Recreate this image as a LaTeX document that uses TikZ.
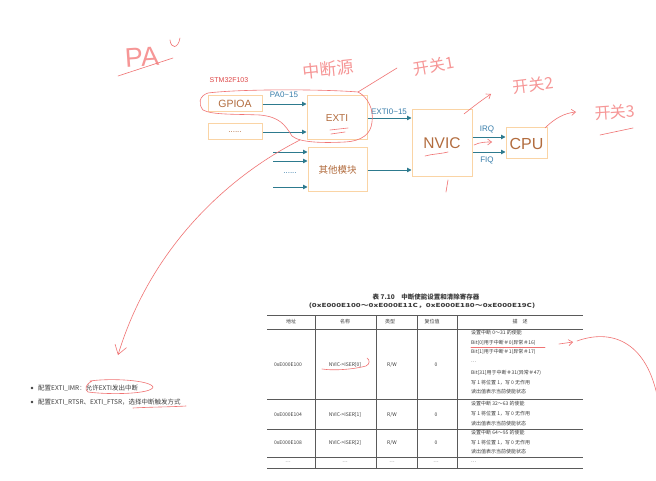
\documentclass[tikz,border=0pt]{standalone}
\usepackage{fontspec}
\setmainfont{Liberation Sans}
\newfontfamily\cjk{Noto Sans CJK SC}
\newfontfamily\tserif{Liberation Serif}
\usetikzlibrary{arrows.meta}
\definecolor{boxc}{RGB}{250,212,165}
\definecolor{boxt}{RGB}{178,108,62}
\definecolor{arrc}{RGB}{45,122,142}
\definecolor{labc}{RGB}{55,125,170}
\definecolor{handc}{RGB}{240,115,115}
\definecolor{handt}{RGB}{246,150,150}
\definecolor{stmc}{RGB}{222,70,70}
\definecolor{tabc}{RGB}{90,90,90}
\definecolor{txtc}{RGB}{60,60,60}
\begin{document}
\begin{tikzpicture}[x=1pt,y=-1pt,
  box/.style={draw=boxc,line width=1pt,text=boxt,inner sep=0pt},
  arr/.style={draw=arrc,line width=0.9pt,-{Triangle[length=4.5pt,width=4.5pt]}},
  lab/.style={text=labc,font=\fontsize{8}{8}\selectfont,inner sep=0pt},
  hand/.style={draw=handc,line width=0.6pt,line cap=round,line join=round},
  harr/.style={hand,-{Straight Barb[length=4pt,width=6pt]}},
  htext/.style={text=handt,font=\cjk\fontsize{16}{16}\selectfont,inner sep=0pt},
  tline/.style={draw=tabc,line width=0.4pt},
  ttext/.style={font=\cjk\fontsize{5}{6}\selectfont,text=txtc,inner sep=0pt},
  dtext/.style={ttext,anchor=west},
  btext/.style={font=\cjk\fontsize{6.5}{7}\selectfont,text=txtc,inner sep=0pt,anchor=west}
]
\useasboundingbox[fill=white] (0,0) rectangle (656,481);

% ---------- boxes ----------
\node[box,minimum width=54pt,minimum height=16pt,font=\fontsize{10.5}{11}\selectfont] (gpioa) at (235,104) {GPIOA};
\node[box,minimum width=54pt,minimum height=16pt,font=\fontsize{8}{8}\selectfont] (dots) at (235,132) {......};
\node[box,minimum width=60pt,minimum height=44pt,font=\fontsize{10}{10}\selectfont] (exti) at (337,118) {EXTI};
\node[box,minimum width=59pt,minimum height=44pt,font=\cjk\fontsize{9.5}{10}\selectfont] (other) at (337.5,170) {其他模块};
\node[box,minimum width=60pt,minimum height=67pt,font=\fontsize{15.5}{16}\selectfont] (nvic) at (442,143.5) {NVIC};
\node[box,minimum width=41pt,minimum height=31pt,font=\fontsize{16}{16}\selectfont] (cpu) at (526.5,143.5) {CPU};
\node[text=stmc,font=\fontsize{7}{7}\selectfont,inner sep=0pt] (stm) at (229,80) {STM32F103};

% ---------- connectors ----------
\draw[arr] (gpioa.east) -- (gpioa.east -| exti.west);
\draw[arr] (dots.east) -- (dots.east -| exti.west);
\draw[arr] (exti.east) -- (exti.east -| nvic.west);
\draw[arr] (other.east) -- (other.east -| nvic.west);
\coordinate (in1) at (273,152);
\coordinate (in2) at (273,161);
\coordinate (in3) at (273,187);
\draw[arr] (in1) -- (in1 -| other.west);
\draw[arr] (in2) -- (in2 -| other.west);
\draw[arr] (in3) -- (in3 -| other.west);
\node[text=labc,font=\fontsize{8}{8}\selectfont,inner sep=0pt] (indots) at (290,173) {......};
\draw[arr] ([yshift=6.5pt]nvic.east) -- ([yshift=6.5pt]nvic.east -| cpu.west);
\draw[arr] ([yshift=-8.5pt]nvic.east) -- ([yshift=-8.5pt]nvic.east -| cpu.west);
\node[lab] (lpa) at (284,95) {PA0\textasciitilde15};
\node[lab] (lexti) at (389,112) {EXTI0\textasciitilde15};
\node[lab] (lirq) at (487,129) {IRQ};
\node[lab] (lfiq) at (487,160) {FIQ};

% ---------- handwriting ----------
\node[text=handt,font=\fontsize{27}{27}\selectfont,inner sep=0pt,rotate=4] (pa) at (142,57) {PA};
\draw[hand] (170,40) .. controls (171,49) and (178,49) .. (180,38);
\draw[hand] (118,76) -- (173,58);
\node[htext,rotate=6,font=\cjk\fontsize{17}{17}\selectfont] (zds) at (328,69) {中断源};
\node[htext,rotate=10] (k1) at (434,66) {开关1};
\node[htext,rotate=7] (k2) at (533,85) {开关2};
\node[htext,rotate=4] (k3) at (615,112) {开关3};
\draw[hand] (600,135) -- (633,128);
% loop around GPIOA / EXTI
\draw[hand] (358,92) .. controls (368,97) and (374,110) .. (372,122)
  .. controls (371,134) and (362,141) .. (345,142)
  .. controls (325,143) and (300,143) .. (292,136)
  .. controls (285,125) and (280,117) .. (260,115)
  .. controls (235,114) and (212,115) .. (203,110)
  .. controls (198,104) and (199,96) .. (208,93)
  .. controls (240,89) and (320,89) .. (358,92)
  -- (397,68);
% underlines
\draw[hand] (330,130) -- (348,128);
\draw[hand] (331,134) -- (345,132);
\draw[hand] (425,156) .. controls (432,154) and (440,154) .. (448,152);
% arrows to switches
\draw[harr] (464,114) .. controls (474,106) and (482,100) .. (491,94);
\draw[harr] (545,128) .. controls (555,118) and (565,113) .. (576,112);
\draw[harr] (474,145) .. controls (480,142) and (486,142) .. (492,142);
\draw[hand] (446,192) -- (448,180);
% long curve to the bullet list
\draw[hand,-{Straight Barb[length=9pt,width=12pt]}] (300,140) .. controls (225,178) and (150,250) .. (118,355);

% ---------- bullets ----------
\fill[txtc] (32,388) circle (1.3pt);
\fill[txtc] (32,402) circle (1.3pt);
\node[btext] (b1) at (38,388) {配置EXTI\_IMR：允许EXTI发出中断};
\node[btext] (b2) at (38,402) {配置EXTI\_RTSR、EXTI\_FTSR，选择中断触发方式};
\draw[hand] (90,381) .. controls (110,378) and (150,380) .. (153,387)
  .. controls (152,394) and (110,395) .. (88,392) .. controls (84,389) and (86,384) .. (92,381);
\draw[hand] (133,408) .. controls (150,407) and (170,407) .. (186,406);

% ---------- table ----------
\node[font=\cjk\bfseries\fontsize{6.5}{7}\selectfont,text=txtc,inner sep=0pt] (ttl) at (426,297) {表 7.10\quad 中断使能设置和清除寄存器};
\node[font=\cjk\bfseries\fontsize{5.5}{6}\selectfont,text=txtc,inner sep=0pt,xscale=1.45] (sub) at (422,306) {(0xE000E100～0xE000E11C，0xE000E180～0xE000E19C)};
\draw[tline,line width=0.9pt] (267,315) -- (583,315);
\draw[tline] (267,329) -- (583,329);
\draw[tline] (267,399) -- (583,399);
\draw[tline] (267,429) -- (583,429);
\draw[tline] (267,457) -- (583,457);
\draw[tline,line width=0.7pt] (267,468) -- (583,468);
\foreach \xx in {315,376,417,457} \draw[tline] (\xx,315) -- (\xx,468);
\node[ttext] (h1) at (291,322) {地址};
\node[ttext] (h2) at (345,322) {名称};
\node[ttext] (h3) at (390,322) {类型};
\node[ttext] (h4) at (432,322) {复位值};
\node[ttext] (h5) at (520,322) {描\quad 述};
% row 1
\node[ttext] (r1a) at (288,365) {0xE000E100};
\node[ttext] (r1b) at (345,365) {NVIC->ISER[0]};
\node[ttext] (r1c) at (392,365) {R/W};
\node[ttext] (r1d) at (436,365) {0};
\node[dtext] (d11) at (471,333) {设置中断 0～31 的使能};
\node[dtext] (d12) at (471,343) {Bit[0]用于中断＃0(异常＃16)};
\node[dtext] (d13) at (471,352) {Bit[1]用于中断＃1(异常＃17)};
\node[dtext] (d14) at (471,362) {…};
\node[dtext] (d15) at (471,373) {Bit[31]用于中断＃31(异常＃47)};
\node[dtext] (d16) at (471,383) {写 1 将位置 1，写 0 无作用};
\node[dtext] (d17) at (471,392) {读出值表示当前使能状态};
% row 2
\node[ttext] (r2a) at (288,415) {0xE000E104};
\node[ttext] (r2b) at (345,415) {NVIC->ISER[1]};
\node[ttext] (r2c) at (392,415) {R/W};
\node[ttext] (r2d) at (436,415) {0};
\node[dtext] (d21) at (471,404) {设置中断 32～63 的使能};
\node[dtext] (d22) at (471,414) {写 1 将位置 1，写 0 无作用};
\node[dtext] (d23) at (471,424) {读出值表示当前使能状态};
% row 3
\node[ttext] (r3a) at (288,443) {0xE000E108};
\node[ttext] (r3b) at (345,443) {NVIC->ISER[2]};
\node[ttext] (r3c) at (392,443) {R/W};
\node[ttext] (r3d) at (436,443) {0};
\node[dtext] (d31) at (471,433) {设置中断 64～95 的使能};
\node[dtext] (d32) at (471,443) {写 1 将位置 1，写 0 无作用};
\node[dtext] (d33) at (471,452) {读出值表示当前使能状态};
% row 4
\node[ttext] (r4a) at (288,462) {…};
\node[ttext] (r4b) at (345,462) {…};
\node[ttext] (r4c) at (392,462) {…};
\node[ttext] (r4d) at (436,462) {…};
\node[dtext] (d41) at (471,462) {…};

% table annotations
\draw[hand] (322,369) .. controls (335,371) and (355,369) .. (366,366) .. controls (370,364) and (370,360) .. (367,358);
\draw[hand] (471,347) -- (545,347);
\draw[harr] (559,344) -- (573,342);
\draw[hand] (577,341) .. controls (610,329) and (645,340) .. (657,395);
\end{tikzpicture}
\end{document}
